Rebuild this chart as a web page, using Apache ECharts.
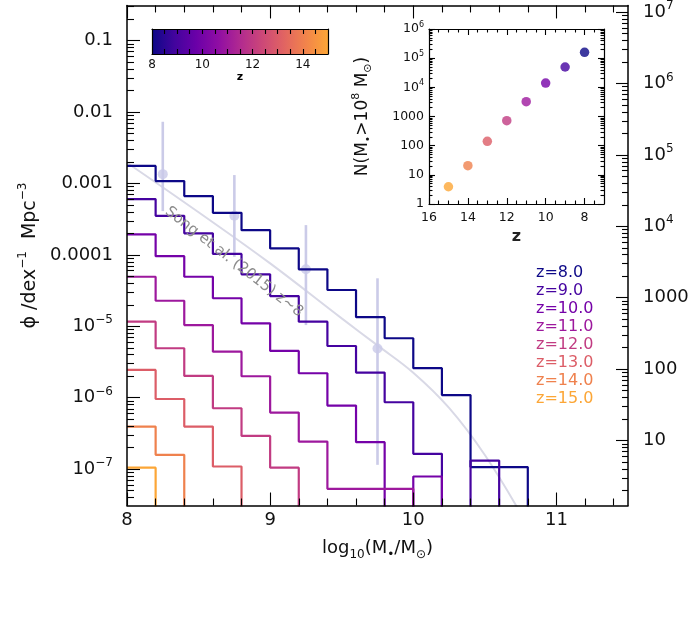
<!DOCTYPE html>
<html>
<head>
<meta charset="utf-8">
<script src="https://cdn.jsdelivr.net/npm/echarts@6.0.0/dist/echarts.min.js"></script>
<style>
  html, body { margin: 0; padding: 0; background: #fff; }
  #main { width: 692px; height: 636px; }
</style>
</head>
<body>
<div id="main"></div>
<script>
// histogram bins: 0.2 dex wide, left edge of the first bin at log M = 8.0
const binStart = 8.0;
const binWidth = 0.2;

const redshifts = [8, 9, 10, 11, 12, 13, 14, 15];
// plasma, 0 .. 0.8
const zColors = ['#0d0887', '#4503a0', '#7502a8', '#9d189d', '#c13b82', '#dc5d67', '#ef814d', '#fca636'];

// phi per bin, dex^-1 Mpc^-3 (0 = empty bin)
const phiZ8  = [1.76e-3, 1.08e-3, 6.65e-4, 3.88e-4, 2.22e-4, 1.23e-4, 6.27e-5, 3.22e-5, 1.34e-5, 6.8e-6, 2.59e-6, 1.09e-6, 1.07e-7, 1.07e-7];
const phiZ9  = [6.04e-4, 3.52e-4, 2.0e-4, 1.03e-4, 5.34e-5, 2.65e-5, 1.16e-5, 5.3e-6, 2.25e-6, 8.65e-7, 1.64e-7, 0, 1.32e-7];
const phiZ10 = [1.94e-4, 9.6e-5, 4.94e-5, 2.47e-5, 1.10e-5, 4.52e-6, 2.20e-6, 7.76e-7, 2.39e-7, 0, 7.9e-8];
const phiZ11 = [4.94e-5, 2.28e-5, 1.04e-5, 4.42e-6, 2.0e-6, 6.2e-7, 2.43e-7, 5.3e-8, 5.3e-8, 5.3e-8];
const phiZ12 = [1.16e-5, 4.93e-6, 2.02e-6, 7.13e-7, 2.92e-7, 1.05e-7];
const phiZ13 = [2.45e-6, 9.6e-7, 3.95e-7, 1.09e-7];
const phiZ14 = [3.95e-7, 1.59e-7];
const phiZ15 = [1.05e-7];
const phiByZ = [phiZ8, phiZ9, phiZ10, phiZ11, phiZ12, phiZ13, phiZ14, phiZ15];

// Song et al. (2015), z~8
const songX   = [8.25, 8.75, 9.25, 9.75];
const songPhi = [1.35e-3, 3.52e-4, 6.3e-5, 4.9e-6];
const songLo  = [4.1e-4, 9.4e-5, 1.04e-5, 1.15e-7];
const songHi  = [7.3e-3, 1.31e-3, 2.61e-4, 4.7e-5];
const songFitX   = [8.0, 8.5, 9.0, 9.5, 9.75, 10.0, 10.25, 10.5, 10.75];
const songFitPhi = [1.95e-3, 3.95e-4, 7.6e-5, 1.29e-5, 5.4e-6, 2.24e-6, 7.2e-7, 1.58e-7, 2.4e-8];

// inset: number of galaxies above 1e8 Msun
const countZ = [15, 14, 13, 12, 11, 10, 9, 8];
const countN = [3.9, 20.6, 141, 718, 3210, 14060, 49800, 158000];

// axis ranges / ticks (log10 space)
const phiMin = Math.log10(3.1e-8), phiMax = Math.log10(0.31);
const nOffset = 7.6;              // right axis: log10 N = log10 phi + offset
const phiTicks = [-7, -6, -5, -4, -3, -2, -1];
const nTicks = [1, 2, 3, 4, 5, 6, 7];
const massTicks = [8, 9, 10, 11];
const massMinor = [8.2, 8.4, 8.6, 8.8, 9.2, 9.4, 9.6, 9.8, 10.2, 10.4, 10.6, 10.8, 11.2, 11.4];
const insetZTicks = [8, 10, 12, 14, 16];
const insetNTicks = [0, 1, 2, 3, 4, 5, 6];
const cbarLabels = [8, 10, 12, 14];
const cbarTicks = [8.5, 9, 9.5, 10, 10.5, 11, 11.5, 12, 12.5, 13, 13.5, 14, 14.5];

const FLOOR = -9;
const FONT = 'DejaVu Sans';
const TXT = '#111';
const FW = 'normal';

function logMinor(lo, hi) {
  const out = [];
  for (let n = Math.floor(lo) - 1; n <= Math.ceil(hi); n++) {
    for (let k = 2; k <= 9; k++) {
      const v = n + Math.log10(k);
      if (v > lo && v < hi) out.push(v);
    }
  }
  return out;
}
function range(a, b, step) {
  const out = [];
  for (let v = a; v <= b + 1e-9; v += step) out.push(+v.toFixed(3));
  return out;
}

function stepData(vals) {
  const pts = vals.map((v, i) => [binStart + i * binWidth, v > 0 ? Math.log10(v) : FLOOR]);
  pts.push([binStart + vals.length * binWidth, FLOOR]);
  return pts;
}

function rich(size) {
  return {
    n: { fontSize: size, fontFamily: FONT, fontWeight: FW, color: TXT, lineHeight: Math.round(size * 1.35) },
    s: { fontSize: Math.round(size * 0.65), fontFamily: FONT, fontWeight: FW, color: TXT, verticalAlign: 'top', lineHeight: Math.round(size * 0.65) },
    b: { fontSize: Math.round(size * 0.65), fontFamily: FONT, fontWeight: FW, color: TXT, verticalAlign: 'bottom', lineHeight: Math.round(size * 0.65) }
  };
}
function powLabel(e, plainUpTo) {
  if (e >= -4 && e <= -1) return '{n|' + Math.pow(10, e).toFixed(-e) + '}';
  if (e >= 0 && e <= plainUpTo) return '{n|' + Math.round(Math.pow(10, e)) + '}';
  return '{n|10}{s|' + (e < 0 ? '\u2212' + (-e) : e) + '}';
}

const black = { color: '#000', width: 1.5 };

function axis(o) {
  const a = {
    type: 'value',
    gridIndex: o.grid,
    position: o.pos,
    min: o.min, max: o.max,
    inverse: !!o.inverse,
    z: 5,
    axisLine: { show: o.line !== false, onZero: false, lineStyle: o.lineStyle || black },
    axisTick: { show: !!o.ticks, inside: true, length: o.tickLen || 6, customValues: o.ticks, lineStyle: { color: '#000', width: 1.1 } },
    axisLabel: o.labels ? Object.assign({ customValues: o.labels, fontFamily: FONT, fontWeight: FW, color: TXT }, o.label) : { show: false },
    splitLine: { show: false }
  };
  if (o.name) {
    a.name = o.name;
    a.nameLocation = 'middle';
    a.nameGap = o.nameGap;
    a.nameRotate = o.nameRotate || 0;
    a.nameTextStyle = o.nameStyle;
  }
  return a;
}

const chart = echarts.init(document.getElementById('main'));

const histSeries = redshifts.map((z, i) => ({
  name: 'z=' + z.toFixed(1),
  type: 'line',
  xAxisIndex: 0, yAxisIndex: 0,
  step: 'end',
  symbol: 'none',
  clip: true,
  z: 3,
  color: zColors[i],
  lineStyle: { width: 2.2, color: zColors[i] },
  data: stepData(phiByZ[i])
}));

const cbarStops = ['#0d0887', '#41049d', '#6a00a8', '#8f0da4', '#b12a90', '#cc4778', '#e16462', '#f2844b', '#fca636']
  .map((c, i, arr) => ({ offset: i / (arr.length - 1), color: c }));

const option = {
  animation: false,
  backgroundColor: '#fff',
  grid: [
    { left: 127, top: 5, width: 501, height: 500.5 },
    { left: 429, top: 29, width: 175, height: 175, show: true, backgroundColor: '#fff', borderWidth: 0 },
    { left: 152, top: 29, width: 176, height: 25 }
  ],
  legend: {
    orient: 'vertical',
    left: 525, top: 259,
    itemWidth: 0, itemHeight: 0, itemGap: 0,
    selectedMode: false,
    textStyle: { fontSize: 16, fontFamily: FONT, lineHeight: 18 },
    data: redshifts.map((z, i) => ({ name: 'z=' + z.toFixed(1), textStyle: { color: zColors[i] } }))
  },
  xAxis: [
    axis({ grid: 0, pos: 'bottom', min: 8, max: 11.5, ticks: massTicks, tickLen: 13, labels: massTicks,
      label: { fontSize: 18, margin: 6 },
      name: '{n|log}{b|10}{n|(M}{b|\u2022}{n|/M}{b|\u2299}{n|)}', nameGap: 31, nameStyle: { rich: rich(18) } }),
    axis({ grid: 0, pos: 'top', min: 8, max: 11.5, ticks: massTicks, tickLen: 13 }),
    axis({ grid: 0, pos: 'bottom', min: 8, max: 11.5, ticks: massMinor, tickLen: 7, line: false }),
    axis({ grid: 0, pos: 'top', min: 8, max: 11.5, ticks: massMinor, tickLen: 7, line: false }),
    axis({ grid: 1, pos: 'bottom', min: 7, max: 16, inverse: true, ticks: insetZTicks, tickLen: 6, labels: insetZTicks,
      lineStyle: { color: '#000', width: 1.2 },
      label: { fontSize: 12.5, margin: 7 },
      name: 'z', nameGap: 25, nameStyle: { fontSize: 16, fontFamily: FONT, fontWeight: 'bold', color: '#222' } }),
    axis({ grid: 1, pos: 'top', min: 7, max: 16, inverse: true, ticks: insetZTicks, tickLen: 6, lineStyle: { color: '#000', width: 1.2 } }),
    axis({ grid: 1, pos: 'bottom', min: 7, max: 16, inverse: true, ticks: range(7.5, 15.5, 0.5).filter(v => v % 2 !== 0), tickLen: 3.5, line: false }),
    axis({ grid: 1, pos: 'top', min: 7, max: 16, inverse: true, ticks: range(7.5, 15.5, 0.5).filter(v => v % 2 !== 0), tickLen: 3.5, line: false }),
    axis({ grid: 2, pos: 'bottom', min: 8, max: 15, ticks: cbarTicks, tickLen: 5, labels: cbarLabels,
      lineStyle: { color: '#000', width: 1.2 },
      label: { fontSize: 12, margin: 5 },
      name: 'z', nameGap: 17, nameStyle: { fontSize: 11, fontFamily: FONT, fontWeight: 'bold', color: '#000' } }),
    axis({ grid: 2, pos: 'top', min: 8, max: 15, ticks: cbarTicks, tickLen: 5, lineStyle: { color: '#000', width: 1.2 } })
  ],
  yAxis: [
    axis({ grid: 0, pos: 'left', min: phiMin, max: phiMax, ticks: phiTicks, tickLen: 13, labels: phiTicks,
      label: { margin: 14, formatter: v => powLabel(Math.round(v), -99), rich: rich(18) },
      name: '{n|\u03d5 /dex}{s|\u22121}{n|  Mpc}{s|\u22123}', nameGap: 83, nameRotate: 90, nameStyle: { rich: rich(19) } }),
    axis({ grid: 0, pos: 'right', min: phiMin + nOffset, max: phiMax + nOffset, ticks: nTicks, tickLen: 12, labels: nTicks,
      label: { margin: 15, formatter: v => powLabel(Math.round(v), 3), rich: rich(18) } }),
    axis({ grid: 0, pos: 'left', min: phiMin, max: phiMax, ticks: logMinor(phiMin, phiMax), tickLen: 7, line: false }),
    axis({ grid: 0, pos: 'right', min: phiMin + nOffset, max: phiMax + nOffset, ticks: logMinor(phiMin + nOffset, phiMax + nOffset), tickLen: 6, line: false }),
    axis({ grid: 1, pos: 'left', min: 0, max: 6, ticks: insetNTicks, tickLen: 6, labels: insetNTicks,
      lineStyle: { color: '#000', width: 1.2 },
      label: { margin: 5, formatter: v => powLabel(Math.round(v), 3), rich: rich(12.5) },
      name: '{n|N(M}{b|\u2022}{n|>10}{s|8}{n| M}{b|\u2299}{n|)}', nameGap: 55, nameRotate: 90, nameStyle: { rich: rich(17) } }),
    axis({ grid: 1, pos: 'right', min: 0, max: 6, ticks: insetNTicks, tickLen: 6, lineStyle: { color: '#000', width: 1.2 } }),
    axis({ grid: 1, pos: 'left', min: 0, max: 6, ticks: logMinor(0, 6), tickLen: 3.5, line: false }),
    axis({ grid: 1, pos: 'right', min: 0, max: 6, ticks: logMinor(0, 6), tickLen: 3.5, line: false }),
    axis({ grid: 2, pos: 'left', min: 0, max: 1, lineStyle: { color: '#000', width: 1.2 } }),
    axis({ grid: 2, pos: 'right', min: 0, max: 1, lineStyle: { color: '#000', width: 1.2 } })
  ],
  graphic: [{
    type: 'text', x: 234, y: 262, rotation: -0.66, z: 10,
    style: { text: 'Song et al. (2015) z~8', fill: '#8c8c8c', font: '15px "DejaVu Sans"', align: 'center', verticalAlign: 'middle' }
  }],
  series: [
    {
      name: 'Song fit', type: 'line', xAxisIndex: 0, yAxisIndex: 0, smooth: 0.4, symbol: 'none', z: 1, clip: true,
      lineStyle: { color: '#d9d9e6', width: 2 },
      data: songFitX.map((x, i) => [x, Math.log10(songFitPhi[i])])
    },
    {
      name: 'Song err', type: 'custom', xAxisIndex: 0, yAxisIndex: 0, z: 2,
      encode: { x: 0, y: [1, 2] },
      renderItem: (params, api) => {
        const a = api.coord([api.value(0), api.value(1)]);
        const b = api.coord([api.value(0), api.value(2)]);
        return { type: 'line', shape: { x1: a[0], y1: a[1], x2: b[0], y2: b[1] }, style: { stroke: '#cbcbe8', lineWidth: 2.6 } };
      },
      data: songX.map((x, i) => [x, Math.log10(songLo[i]), Math.log10(songHi[i])])
    },
    {
      name: 'Song', type: 'scatter', xAxisIndex: 0, yAxisIndex: 0, z: 2, symbolSize: 10,
      itemStyle: { color: '#c9c9e8' },
      data: songX.map((x, i) => [x, Math.log10(songPhi[i])])
    },
    ...histSeries,
    {
      name: 'N', type: 'scatter', xAxisIndex: 4, yAxisIndex: 4, symbolSize: 9.5, z: 4,
      data: countZ.map((z, i) => ({ value: [z, Math.log10(countN[i])], itemStyle: { color: zColors[redshifts.indexOf(z)] } }))
    },
    {
      name: 'cbar', type: 'custom', xAxisIndex: 8, yAxisIndex: 8, z: 1,
      renderItem: (params, api) => {
        const a = api.coord([api.value(0), 1]);
        const b = api.coord([api.value(1), 0]);
        return {
          type: 'rect',
          shape: { x: a[0], y: a[1], width: b[0] - a[0], height: b[1] - a[1] },
          style: { fill: new echarts.graphic.LinearGradient(0, 0, 1, 0, cbarStops) }
        };
      },
      data: [[8, 15]]
    }
  ]
};

chart.setOption(option);
window.addEventListener('resize', () => chart.resize());
</script>
</body>
</html>
